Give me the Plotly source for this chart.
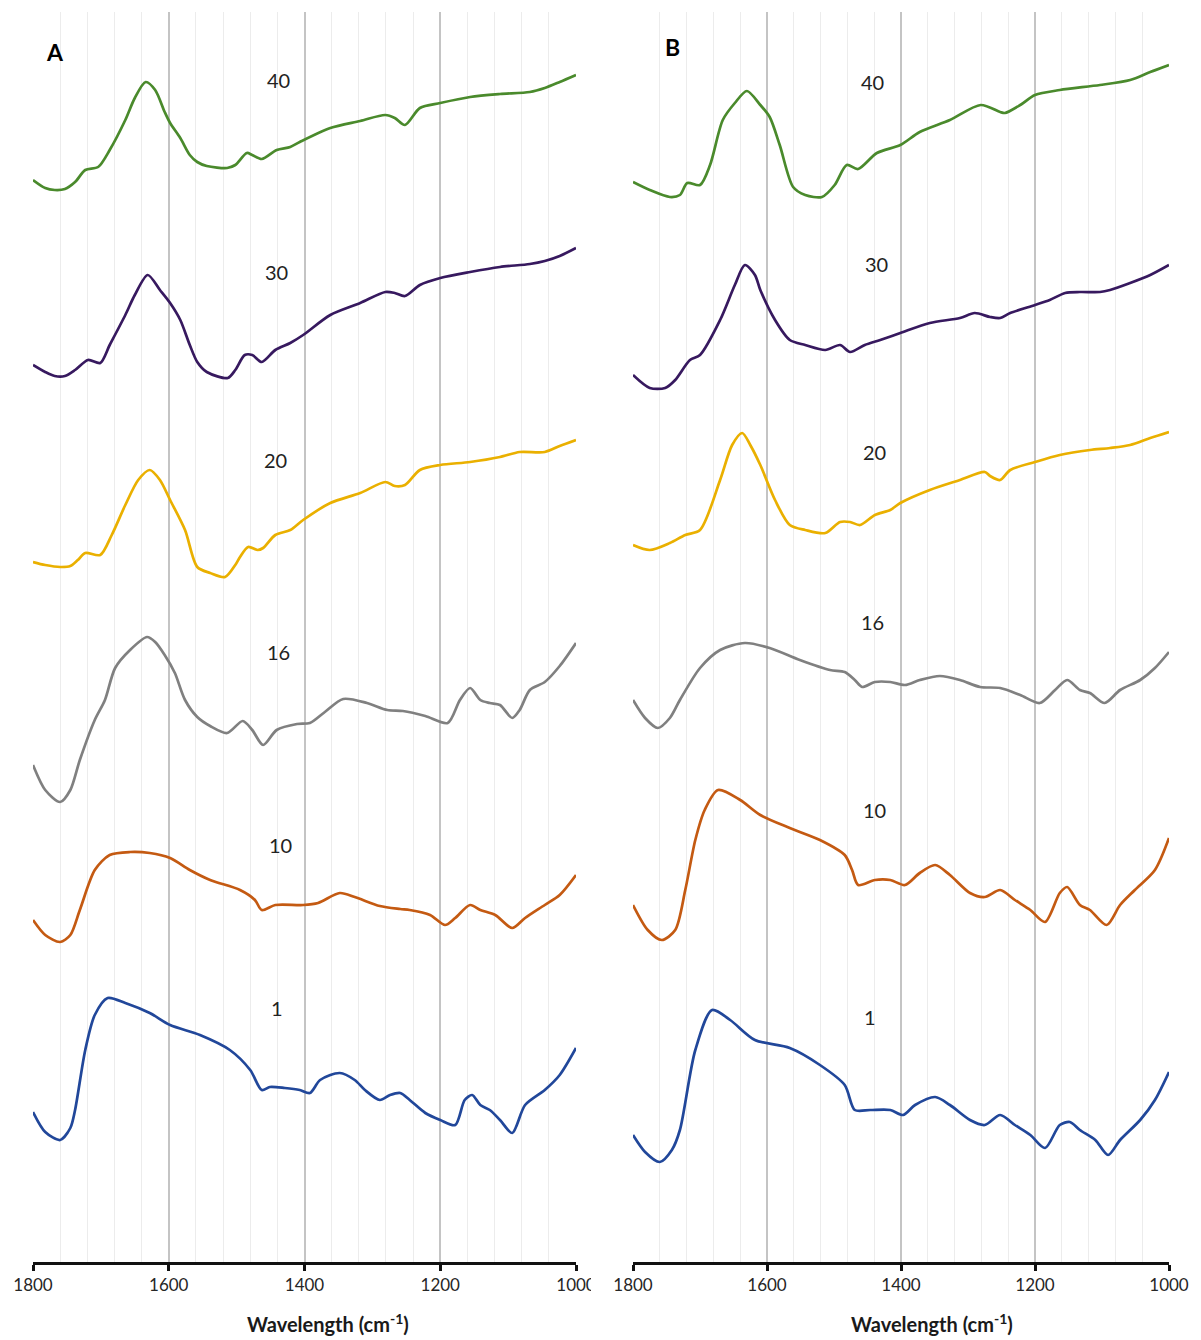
import plotly.graph_objects as go
from plotly.subplots import make_subplots

# ---------------- data (wavenumber in cm-1, offset absorbance in a.u.) ----------------
series_labels = ["40", "30", "20", "16", "10", "1"]
series_colors = ["#4a8a2c", "#37195f", "#eab000", "#808080", "#c45a12", "#21479a"]

# Panel A
wn_A_40 = [1800, 1782, 1768, 1753, 1738, 1723, 1704, 1687, 1664, 1650, 1634, 1620, 1606, 1598, 1583, 1569, 1558, 1544, 1514, 1502, 1485, 1477, 1463, 1441, 1421, 1407, 1362, 1318, 1281, 1267, 1252, 1230, 1200, 1156, 1112, 1068, 1046, 1024, 1000]
ab_A_40 = [1082, 1074, 1072, 1073, 1080, 1092, 1095, 1112, 1142, 1164, 1180, 1172, 1150, 1139, 1124, 1107, 1100, 1096, 1094, 1097, 1109, 1107, 1103, 1112, 1115, 1120, 1134, 1141, 1147, 1144, 1137, 1154, 1159, 1165, 1168, 1170, 1174, 1180, 1187]

wn_A_30 = [1800, 1782, 1768, 1753, 1738, 1719, 1701, 1687, 1664, 1650, 1631, 1613, 1598, 1583, 1569, 1558, 1544, 1513, 1502, 1488, 1477, 1463, 1443, 1421, 1402, 1362, 1318, 1281, 1267, 1252, 1230, 1200, 1156, 1112, 1068, 1046, 1024, 1000]
ab_A_30 = [897, 890, 886, 886, 892, 902, 899, 917, 947, 967, 987, 972, 959, 942, 917, 900, 890, 884, 892, 907, 907, 900, 912, 919, 927, 947, 959, 970, 969, 966, 977, 984, 990, 995, 998, 1001, 1006, 1014]

wn_A_20 = [1800, 1782, 1760, 1745, 1734, 1723, 1701, 1684, 1664, 1645, 1628, 1613, 1598, 1576, 1558, 1539, 1517, 1502, 1495, 1483, 1469, 1461, 1443, 1421, 1402, 1362, 1318, 1281, 1267, 1252, 1230, 1200, 1156, 1112, 1083, 1046, 1024, 1000]
ab_A_20 = [700, 697, 695, 696, 702, 709, 707, 727, 757, 782, 792, 782, 762, 732, 695, 689, 685, 697, 705, 715, 712, 714, 727, 732, 742, 759, 769, 780, 776, 777, 792, 797, 800, 805, 810, 810, 816, 822]

wn_A_16 = [1800, 1782, 1760, 1745, 1731, 1709, 1694, 1679, 1657, 1632, 1620, 1606, 1591, 1576, 1558, 1539, 1514, 1491, 1477, 1461, 1441, 1411, 1392, 1370, 1343, 1308, 1278, 1255, 1222, 1189, 1171, 1156, 1141, 1127, 1112, 1094, 1083, 1068, 1046, 1024, 1000]
ab_A_16 = [497, 472, 460, 472, 502, 542, 562, 594, 612, 625, 620, 607, 589, 562, 545, 536, 529, 541, 532, 517, 532, 538, 539, 550, 563, 559, 552, 551, 546, 539, 562, 574, 562, 559, 557, 544, 552, 572, 580, 596, 619]

wn_A_10 = [1800, 1782, 1760, 1745, 1731, 1709, 1687, 1657, 1628, 1598, 1569, 1539, 1495, 1473, 1463, 1443, 1402, 1380, 1348, 1326, 1289, 1259, 1245, 1215, 1193, 1178, 1156, 1141, 1119, 1094, 1075, 1046, 1024, 1000]
ab_A_10 = [342, 327, 320, 327, 352, 392, 407, 410, 409, 404, 392, 382, 372, 362, 352, 357, 357, 359, 369, 365, 356, 353, 352, 347, 337, 344, 357, 352, 347, 334, 344, 357, 367, 387]

wn_A_1 = [1800, 1782, 1760, 1745, 1738, 1723, 1709, 1690, 1664, 1628, 1598, 1554, 1510, 1480, 1463, 1451, 1429, 1407, 1392, 1377, 1348, 1326, 1311, 1289, 1274, 1259, 1245, 1222, 1200, 1178, 1164, 1153, 1141, 1127, 1112, 1094, 1075, 1046, 1024, 1000]
ab_A_1 = [150, 130, 122, 134, 152, 212, 247, 264, 259, 249, 237, 227, 212, 192, 172, 175, 174, 172, 169, 182, 189, 182, 172, 162, 167, 169, 162, 149, 142, 137, 162, 167, 157, 152, 142, 129, 157, 172, 187, 214]

# Panel B
wn_B_40 = [1800, 1775, 1745, 1730, 1719, 1700, 1685, 1666, 1648, 1630, 1610, 1596, 1581, 1561, 1543, 1518, 1499, 1481, 1464, 1436, 1401, 1372, 1327, 1281, 1252, 1245, 1222, 1200, 1163, 1103, 1058, 1028, 1000]
ab_B_40 = [1080, 1072, 1065, 1067, 1079, 1077, 1097, 1142, 1159, 1171, 1157, 1145, 1117, 1075, 1067, 1065, 1077, 1097, 1093, 1109, 1117, 1130, 1142, 1157, 1150, 1149, 1157, 1167, 1172, 1177, 1182, 1190, 1197]

wn_B_30 = [1800, 1775, 1752, 1737, 1715, 1700, 1670, 1648, 1633, 1618, 1610, 1588, 1566, 1543, 1513, 1491, 1476, 1454, 1431, 1401, 1357, 1312, 1290, 1267, 1252, 1237, 1200, 1178, 1155, 1133, 1103, 1088, 1058, 1028, 1000]
ab_B_30 = [887, 874, 874, 882, 902, 907, 942, 977, 997, 987, 972, 942, 922, 917, 912, 917, 910, 917, 922, 929, 939, 944, 949, 945, 944, 949, 957, 962, 969, 970, 970, 972, 979, 987, 997]

wn_B_20 = [1800, 1775, 1745, 1722, 1700, 1670, 1652, 1637, 1625, 1610, 1588, 1566, 1543, 1513, 1491, 1476, 1461, 1439, 1416, 1401, 1357, 1312, 1275, 1267, 1252, 1237, 1200, 1163, 1118, 1088, 1058, 1028, 1000]
ab_B_20 = [717, 712, 719, 727, 732, 782, 817, 829, 817, 797, 762, 737, 732, 729, 740, 740, 737, 747, 752, 759, 772, 782, 790, 786, 782, 792, 800, 807, 812, 814, 817, 824, 830]

wn_B_16 = [1800, 1782, 1763, 1745, 1730, 1700, 1670, 1633, 1596, 1551, 1506, 1484, 1469, 1458, 1439, 1416, 1394, 1372, 1342, 1312, 1282, 1252, 1222, 1193, 1170, 1152, 1133, 1118, 1096, 1073, 1043, 1021, 1000]
ab_B_16 = [562, 544, 534, 544, 562, 594, 612, 619, 614, 602, 592, 590, 582, 575, 580, 580, 577, 582, 586, 582, 575, 574, 567, 559, 572, 582, 572, 569, 559, 572, 582, 594, 610]

wn_B_10 = [1800, 1778, 1757, 1737, 1722, 1707, 1693, 1673, 1640, 1610, 1566, 1521, 1484, 1473, 1464, 1439, 1416, 1394, 1372, 1349, 1327, 1297, 1275, 1252, 1230, 1207, 1185, 1163, 1152, 1133, 1118, 1093, 1073, 1051, 1021, 1000]
ab_B_10 = [357, 332, 322, 332, 372, 422, 452, 472, 462, 447, 434, 422, 407, 392, 377, 382, 382, 377, 389, 397, 387, 369, 365, 372, 362, 352, 340, 369, 375, 357, 352, 337, 357, 372, 392, 424]

wn_B_1 = [1800, 1782, 1760, 1742, 1730, 1707, 1682, 1655, 1618, 1566, 1521, 1484, 1469, 1446, 1416, 1397, 1379, 1349, 1327, 1297, 1275, 1252, 1230, 1207, 1185, 1163, 1148, 1133, 1110, 1091, 1073, 1043, 1021, 1000]
ab_B_1 = [127, 110, 100, 112, 132, 212, 252, 242, 222, 214, 197, 177, 152, 152, 152, 147, 157, 165, 157, 142, 137, 147, 137, 127, 114, 137, 140, 132, 122, 107, 122, 142, 162, 190]

# label anchor positions (wavenumber, offset) for the number labels
label_pos_A = [(1438, 1182), (1441, 990), (1443, 802), (1438, 610), (1435, 417), (1441, 254)]
label_pos_B = [(1442, 1180), (1436, 998), (1440, 810), (1442, 640), (1440, 452), (1446, 245)]

panel_A = [(wn_A_40, ab_A_40), (wn_A_30, ab_A_30), (wn_A_20, ab_A_20),
           (wn_A_16, ab_A_16), (wn_A_10, ab_A_10), (wn_A_1, ab_A_1)]
panel_B = [(wn_B_40, ab_B_40), (wn_B_30, ab_B_30), (wn_B_20, ab_B_20),
           (wn_B_16, ab_B_16), (wn_B_10, ab_B_10), (wn_B_1, ab_B_1)]

# ---------------- figure ----------------
W, H = 1201, 1340
fig = make_subplots(rows=1, cols=2)

for col, panel in ((1, panel_A), (2, panel_B)):
    for (wn, ab), name, color in zip(panel, series_labels, series_colors):
        fig.add_trace(go.Scatter(x=wn, y=ab, mode="lines", name=name,
                                 line=dict(color=color, width=2.7, shape="spline", smoothing=0.8),
                                 showlegend=False, hoverinfo="skip"),
                      row=1, col=col)

def px_x(p):
    return p / W

def px_y(p):
    return 1 - p / H

xdom_A = [px_x(33), px_x(576)]
xdom_B = [px_x(633), px_x(1169)]
ydom = [px_y(1262), px_y(12)]

xaxis_common = dict(
    range=[1800, 1000], autorange=False, tickmode="linear", tick0=1000, dtick=200,
    showgrid=True, gridcolor="#c4c4c4", gridwidth=1.6,
    minor=dict(dtick=40, tick0=1000, showgrid=True, gridcolor="#ececec", gridwidth=1.2),
    showline=True, linecolor="#111111", linewidth=3,
    ticks="outside", ticklen=6, tickwidth=2.5, tickcolor="#111111",
    tickfont=dict(family="Lato", size=17, color="#262626"),
    zeroline=False, fixedrange=True, automargin=False,
)
yaxis_common = dict(range=[0, 1250], autorange=False, showgrid=False, showline=False,
                    showticklabels=False, ticks="", zeroline=False, fixedrange=True,
                    automargin=False)

fig.update_layout(
    width=W, height=H,
    autosize=False,
    margin=dict(l=0, r=0, t=0, b=0, pad=0, autoexpand=False),
    paper_bgcolor="white", plot_bgcolor="white",
    xaxis=dict(domain=xdom_A, **xaxis_common),
    xaxis2=dict(domain=xdom_B, **xaxis_common),
    yaxis=dict(domain=ydom, **yaxis_common),
    yaxis2=dict(domain=ydom, **yaxis_common),
)

# white breaks in the gridlines between the stacked spectra
gaps_A = [199, 395, 585, 745, 948]
gaps_B = [203, 390, 576, 731, 938]
shapes = []
for xr, gaps in (("x domain", gaps_A), ("x2 domain", gaps_B)):
    for g in gaps:
        shapes.append(dict(type="rect", xref=xr, yref="paper", x0=-0.01, x1=1.01,
                           y0=px_y(g + 2.5), y1=px_y(g - 2.5), fillcolor="white",
                           line=dict(width=0), layer="between"))
# the right panel overlaps the last tick label of the left panel
shapes.append(dict(type="rect", xref="paper", yref="paper", x0=px_x(591), x1=px_x(606),
                   y0=px_y(1296), y1=px_y(1266), fillcolor="white", line=dict(width=0),
                   layer="above"))
fig.update_layout(shapes=shapes)

annotations = []
for xr, yr, positions in (("x", "y", label_pos_A), ("x2", "y2", label_pos_B)):
    for (lx, ly), txt in zip(positions, series_labels):
        annotations.append(dict(x=lx, y=ly, xref=xr, yref=yr, text=txt, showarrow=False,
                                font=dict(family="Lato", size=20, color="#222222"),
                                xanchor="center", yanchor="middle"))
# panel letters
annotations.append(dict(x=px_x(55), y=px_y(52), xref="paper", yref="paper", text="<b>A</b>",
                        showarrow=False, font=dict(family="Lato", size=23, color="black"),
                        xanchor="center", yanchor="middle"))
annotations.append(dict(x=px_x(672), y=px_y(47), xref="paper", yref="paper", text="<b>B</b>",
                        showarrow=False, font=dict(family="Lato", size=23, color="black"),
                        xanchor="center", yanchor="middle"))
# axis titles
for cx in (328, 932):
    annotations.append(dict(x=px_x(cx), y=px_y(1323), xref="paper", yref="paper",
                            text="<b>Wavelength (cm<sup>-1</sup>)</b>", showarrow=False,
                            font=dict(family="Lato", size=20, color="#1a1a1a"),
                            xanchor="center", yanchor="middle"))
fig.update_layout(annotations=annotations)

fig.write_html("out.html", config={"responsive": False, "displayModeBar": False},
               post_script="document.body.style.margin='0';document.body.style.overflow='hidden';")
